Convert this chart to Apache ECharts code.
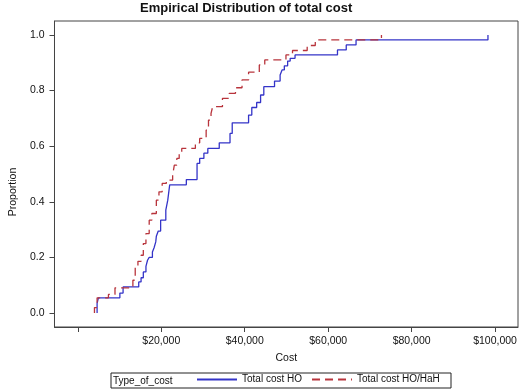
<!DOCTYPE html>
<html>
<head>
<meta charset="utf-8">
<script src="https://cdn.jsdelivr.net/npm/echarts@6/dist/echarts.min.js"></script>
<style>
  html, body { margin: 0; padding: 0; background: #fff; }
  #chart { width: 520px; height: 390px; }
</style>
</head>
<body>
<div id="chart"></div>
<script>
// empirical CDF steps
const hoCost = [4610, 4610, 4920, 10070, 10840, 14590, 15150, 15690, 16320, 16700, 17100, 17870, 18270, 18670, 18810,
  19270, 19840, 21080, 21550, 22010, 26000, 28570, 29200, 30210, 31150, 33890, 36470, 37000, 40920, 41690, 42860,
  43800, 44570, 47140, 48480, 48950, 49490, 50280, 50890, 52060, 62230, 64330, 66680, 98300];
const hoProp = [0, 0.035, 0.055, 0.072, 0.094, 0.112, 0.127, 0.148, 0.168, 0.19, 0.2, 0.22, 0.235, 0.256, 0.276,
  0.295, 0.334, 0.37, 0.406, 0.461, 0.48, 0.538, 0.556, 0.575, 0.592, 0.612, 0.646, 0.684, 0.712, 0.739, 0.757,
  0.784, 0.814, 0.834, 0.856, 0.874, 0.889, 0.906, 0.916, 0.928, 0.946, 0.964, 0.982, 1.0];

const hahCost = [3980, 3980, 4610, 7330, 8900, 13190, 13750, 14400, 15150, 15690, 16320, 17100, 17730, 18810, 19440,
  20210, 21200, 22720, 23120, 23720, 24290, 24900, 28170, 29200, 30750, 31310, 31920, 32320, 34660, 36300, 37780,
  39350, 40920, 43490, 44800, 49880, 51450, 54970, 56910, 72770];
const hahProp = [0, 0.02, 0.055, 0.067, 0.091, 0.118, 0.166, 0.186, 0.208, 0.25, 0.286, 0.334, 0.358, 0.406, 0.436,
  0.466, 0.478, 0.496, 0.532, 0.556, 0.574, 0.592, 0.612, 0.628, 0.658, 0.694, 0.718, 0.742, 0.772, 0.79, 0.81,
  0.838, 0.866, 0.892, 0.91, 0.928, 0.944, 0.962, 0.982, 1.0];

const xTicks = [0, 20000, 40000, 60000, 80000, 100000];
const xLabels = [20000, 40000, 60000, 80000, 100000];
const yTicks = [0, 0.2, 0.4, 0.6, 0.8, 1.0];

const font = '"Liberation Sans", Arial, sans-serif';
const frame = '#444';

const pairs = (xs, ys) => xs.map((x, i) => [x, ys[i]]);
const money = (v) => '$' + String(Math.round(v)).replace(/\B(?=(\d{3})+(?!\d))/g, ',');

const chart = echarts.init(document.getElementById('chart'));
chart.setOption({
  animation: false,
  textStyle: { fontFamily: font },
  title: {
    text: 'Empirical Distribution of total cost',
    left: 140,
    top: 2,
    padding: 0,
    textStyle: { fontSize: 13, fontWeight: 'bold', color: '#111', fontFamily: font },
  },
  grid: {
    left: 43,
    right: 2,
    top: 21,
    bottom: 63,
    show: true,
    borderColor: frame,
    borderWidth: 1,
  },
  legend: {
    left: 196,
    top: 374,
    itemWidth: 40,
    itemHeight: 14,
    itemGap: 9,
    padding: 0,
    itemStyle: { opacity: 0 },
    textStyle: { fontSize: 10, color: '#111', fontFamily: font },
    data: ['Total cost HO', 'Total cost HO/HaH'],
  },
  xAxis: {
    type: 'value',
    min: -5600,
    max: 105500,
    name: 'Cost',
    nameLocation: 'middle',
    nameGap: 26,
    nameTextStyle: { fontSize: 10.5, color: '#111' },
    splitLine: { show: false },
    axisLine: { show: true, onZero: false, lineStyle: { color: frame } },
    axisTick: { show: true, length: 5, customValues: xTicks, lineStyle: { color: frame } },
    axisLabel: { customValues: xLabels, margin: 9, fontSize: 10.5, color: '#111', formatter: money },
  },
  yAxis: {
    type: 'value',
    min: -0.05,
    max: 1.05,
    name: 'Proportion',
    nameLocation: 'middle',
    nameGap: 26,
    nameTextStyle: { fontSize: 10.5, color: '#111', padding: [0, 36, 0, 0] },
    splitLine: { show: false },
    axisLine: { show: true, onZero: false, lineStyle: { color: frame } },
    axisTick: { show: true, length: 5, customValues: yTicks, lineStyle: { color: frame } },
    axisLabel: { customValues: yTicks, margin: 10, fontSize: 10.5, color: '#111', formatter: (v) => v.toFixed(1) },
  },
  graphic: [
    {
      type: 'rect',
      shape: { x: 111, y: 373, width: 340, height: 15 },
      style: { fill: 'none', stroke: '#222', lineWidth: 1 },
    },
    {
      type: 'text',
      left: 113,
      top: 376,
      style: { text: 'Type_of_cost', fontSize: 10, fill: '#111', fontFamily: font },
    },
  ],
  series: [
    {
      name: 'Total cost HO',
      type: 'line',
      step: 'end',
      symbol: 'none',
      lineStyle: { color: '#3434C8', width: 1.3 },
      itemStyle: { color: '#3434C8' },
      data: pairs(hoCost, hoProp),
    },
    {
      name: 'Total cost HO/HaH',
      type: 'line',
      step: 'end',
      symbol: 'none',
      lineStyle: { color: '#B8343C', width: 1.3, type: [8, 5] },
      itemStyle: { color: '#B8343C' },
      data: pairs(hahCost, hahProp),
    },
  ],
});
</script>
</body>
</html>
